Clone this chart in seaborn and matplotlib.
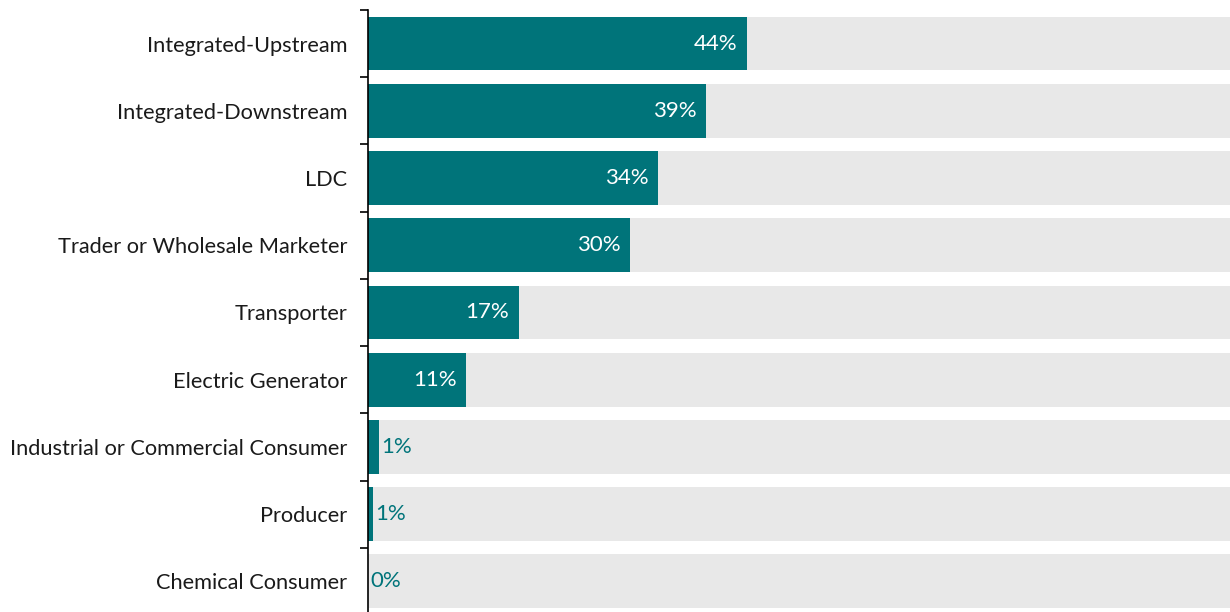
import matplotlib
matplotlib.use("Agg")
import matplotlib.pyplot as plt
import seaborn as sns
import pandas as pd
import numpy as np

categories = [
    "Integrated-Upstream",
    "Integrated-Downstream",
    "LDC",
    "Trader or Wholesale Marketer",
    "Transporter",
    "Electric Generator",
    "Industrial or Commercial Consumer",
    "Producer",
    "Chemical Consumer",
]
shares = [0.44, 0.392, 0.337, 0.304, 0.175, 0.114, 0.013, 0.006, 0.0]
labels = ["44%", "39%", "34%", "30%", "17%", "11%", "1%", "1%", "0%"]
full = [1.0] * len(categories)

TEAL = "#00747A"
TRACK = "#E8E8E8"
TEXT = "#1A1A1A"

sns.set_theme(style="white")
plt.rcParams["font.family"] = ["Lato", "DejaVu Sans"]

df = pd.DataFrame({"category": categories, "share": shares, "full": full})

fig = plt.figure(figsize=(12.30, 6.12), dpi=100)
ax = fig.add_axes([368 / 1230, -3 / 612, 1 - 368 / 1230, 605 / 612])

sns.barplot(data=df, y="category", x="full", color=TRACK, saturation=1,
            width=0.8, ax=ax, orient="h", linewidth=0)
sns.barplot(data=df, y="category", x="share", color=TEAL, saturation=1,
            width=0.8, ax=ax, orient="h", linewidth=0)

for i, (v, lab) in enumerate(zip(shares, labels)):
    if v >= 0.1:
        ax.annotate(lab, xy=(v, i), xytext=(-7, 0), textcoords="offset points",
                    ha="right", va="center", color="white", fontsize=16)
    else:
        ax.annotate(lab, xy=(v, i), xytext=(1.5, 0), textcoords="offset points",
                    ha="left", va="center", color=TEAL, fontsize=16)

ax.set_xlim(0, 1)
ax.set_ylim(len(categories) - 0.5, -0.5)
ax.set_xlabel("")
ax.set_ylabel("")
ax.set_xticks([])
ax.set_yticks(range(len(categories)))
ax.set_yticklabels(categories, fontsize=15.7, color=TEXT)
ax.set_yticks(np.arange(-0.5, len(categories), 1.0), minor=True)
ax.tick_params(axis="y", which="major", length=0, pad=15)
ax.tick_params(axis="y", which="minor", length=6, width=1.2, color="#000000", left=True)

for side in ["top", "right", "bottom"]:
    ax.spines[side].set_visible(False)
ax.spines["left"].set_color("#000000")
ax.spines["left"].set_linewidth(1.2)

fig.savefig("out.png", dpi=100)
